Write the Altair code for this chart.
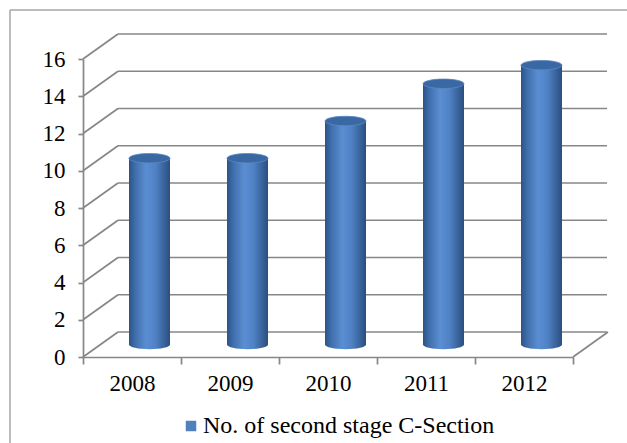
import altair as alt
import pandas as pd

years = ["2008", "2009", "2010", "2011", "2012"]
counts = [10, 10, 12, 14, 15]
grid_values = [0, 2, 4, 6, 8, 10, 12, 14, 16]
series_name = "No. of second stage C-Section"

W, H = 490, 298          # plot area (front face)
DX, DY = 35, -25         # 3-D depth offset
FONT = "Liberation Serif"
GRID = "#878787"

bars_df = pd.DataFrame({"year": years, "v": counts})
grid_df = pd.DataFrame({"v": grid_values})
legend_df = pd.DataFrame({"s": [series_name]})

yscale = alt.Scale(domain=[0, 16], nice=False, zero=True)
xscale = alt.Scale(domain=years, paddingInner=0, paddingOuter=0)

side_grad = alt.LinearGradient(
    gradient="linear", x1=0, x2=1, y1=0, y2=0,
    stops=[
        alt.GradientStop(offset=0.0, color="#2b5387"),
        alt.GradientStop(offset=0.15, color="#3f6eab"),
        alt.GradientStop(offset=0.42, color="#5a8ed3"),
        alt.GradientStop(offset=0.65, color="#4f81c4"),
        alt.GradientStop(offset=1.0, color="#2a4f80"),
    ],
)

ellipse = ("M -1 0 C -1 -0.127 -0.5523 -0.23 0 -0.23 C 0.5523 -0.23 1 -0.127 1 0 "
           "C 1 0.127 0.5523 0.23 0 0.23 C -0.5523 0.23 -1 0.127 -1 0 Z")
BW = 41
XO = DX / 2
YO = DY / 2

yaxis = alt.Axis(
    values=grid_values, tickCount=9, grid=False, domainColor=GRID, domainWidth=1.7,
    tickColor=GRID, tickWidth=1.7, tickSize=5, labelFont=FONT, labelFontSize=23,
    labelColor="black", labelPadding=13, labelOverlap=False, title=None)

xaxis = alt.Axis(title=None, labelAngle=0, tickBand="extent", domainColor=GRID,
                 domainWidth=1.7, tickColor=GRID, tickWidth=1.7, tickSize=7,
                 labelFont=FONT, labelFontSize=23, labelColor="black", labelPadding=8)

back = alt.Chart(grid_df).mark_rule(
    color=GRID, strokeWidth=1.7, xOffset=DX, x2Offset=DX - 1, yOffset=DY, y2Offset=DY
).encode(
    y=alt.Y("v:Q", scale=yscale, axis=yaxis),
    x=alt.value(0), x2=alt.value(W),
)

side = alt.Chart(grid_df).mark_rule(
    color=GRID, strokeWidth=1.7, x2Offset=DX, y2Offset=DY
).encode(
    y=alt.Y("v:Q", scale=yscale, axis=yaxis), y2="v:Q",
    x=alt.value(0), x2=alt.value(0),
)

floor_edge = alt.Chart(grid_df).transform_filter("datum.v == 0").mark_rule(
    color=GRID, strokeWidth=1.7, x2Offset=DX, y2Offset=DY
).encode(
    y=alt.Y("v:Q", scale=yscale, axis=yaxis), y2="v:Q",
    x=alt.value(W), x2=alt.value(W),
)

bars = alt.Chart(bars_df).mark_bar(
    fill=side_grad, width=BW, xOffset=XO, yOffset=YO, y2Offset=YO
).encode(
    x=alt.X("year:N", scale=xscale, axis=xaxis, sort=years),
    y=alt.Y("v:Q", scale=yscale, axis=yaxis),
    y2=alt.datum(0),
)

bottoms = alt.Chart(bars_df).mark_point(
    shape=ellipse, size=BW * BW, filled=True, fill=side_grad, opacity=1,
    strokeWidth=0, xOffset=XO, yOffset=YO
).encode(
    x=alt.X("year:N", scale=xscale, sort=years, axis=xaxis),
    y=alt.Y(datum=0, scale=yscale, axis=yaxis),
)

tops = alt.Chart(bars_df).mark_point(
    shape=ellipse, size=BW * BW, filled=True, fill="#3a68a4", opacity=1,
    stroke="#5d88c0", strokeWidth=0.8, xOffset=XO, yOffset=YO
).encode(
    x=alt.X("year:N", scale=xscale, sort=years, axis=xaxis),
    y=alt.Y("v:Q", scale=yscale, axis=yaxis),
)

legend_layer = alt.Chart(legend_df).mark_square(opacity=0).encode(
    color=alt.Color("s:N", scale=alt.Scale(range=["#4f81bd"]), legend=alt.Legend(
        title=None, orient="none", legendX=96, legendY=355, padding=0,
        symbolType="square", symbolSize=110, symbolOpacity=1, symbolStrokeWidth=0,
        symbolFillColor="#4f81bd", labelFont=FONT, labelFontSize=24, labelColor="black",
        labelOffset=0, labelLimit=500)),
)

border = alt.Chart(legend_df).mark_rule(color="#a6a6a6", strokeWidth=1.5).encode(
    x=alt.value(-73), x2=alt.value(560), y=alt.value(-49), y2=alt.value(-49)
)
border_left = alt.Chart(legend_df).mark_rule(color="#a6a6a6", strokeWidth=1.5).encode(
    x=alt.value(-73), x2=alt.value(-73), y=alt.value(-49), y2=alt.value(400)
)

chart = alt.layer(
    border, border_left, back, side, floor_edge, bars, bottoms, tops, legend_layer
).properties(
    width=W, height=H,
    autosize=alt.AutoSizeParams(type="none"),
    padding={"left": 83, "top": 59, "right": 54, "bottom": 86},
    background="white",
).configure_view(stroke=None).configure_axis(labelOverlap=False)

chart.save("out.html", embed_options={"renderer": "svg", "actions": False})
